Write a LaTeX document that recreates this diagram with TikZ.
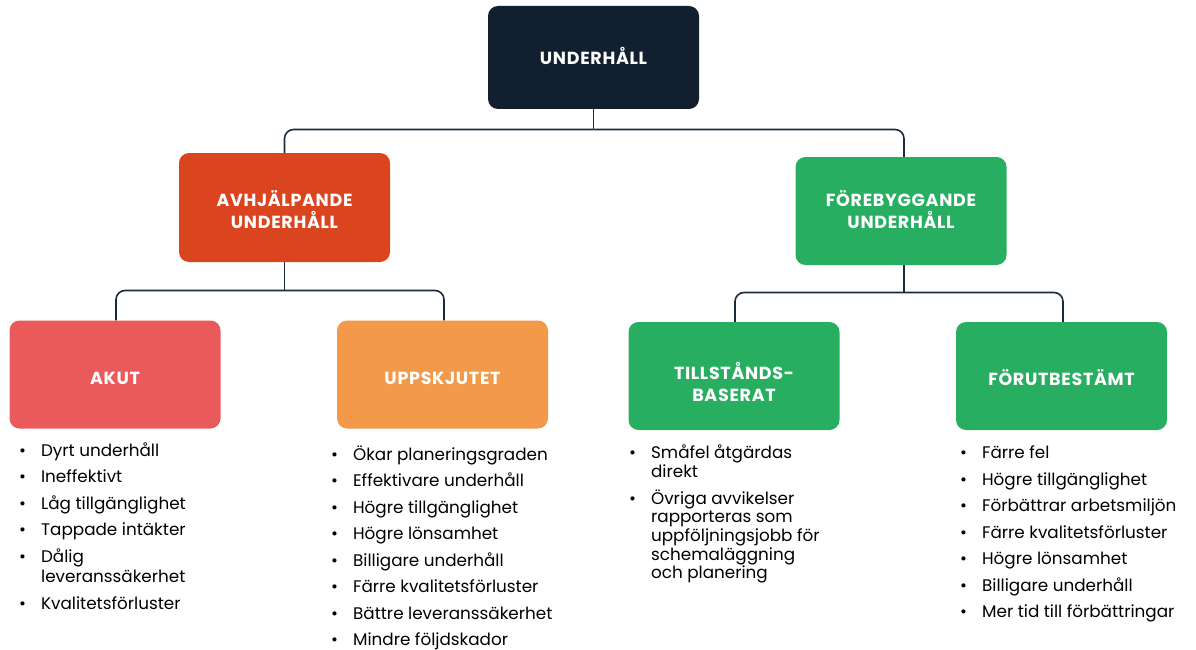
\documentclass[tikz,border=0pt]{standalone}
\usepackage{fontspec}
\setmainfont{Poppins}
\definecolor{navy}{HTML}{111F2E}
\definecolor{rust}{HTML}{DA4520}
\definecolor{leaf}{HTML}{27AE60}
\definecolor{coral}{HTML}{EB5A5A}
\definecolor{amber}{HTML}{F2994A}
\definecolor{wire}{HTML}{1C2A3A}
% bullet list rows: one item per row, extra gap between items
\newcommand{\itm}{\textbullet\hspace{15pt}}
\newcommand{\gap}{\\[6pt]}
\begin{document}
\begin{tikzpicture}[x=1pt,y=-1pt,
  box/.style={rounded corners=10pt, minimum width=211pt, minimum height=108pt,
    inner sep=0pt},
  boxtext/.style={inner sep=0pt, text=white, align=center,
    font=\fontsize{17.5}{22}\selectfont\bfseries\addfontfeature{LetterSpace=4}},
  conn/.style={draw=wire, line width=1.6pt, rounded corners=9pt},
  list/.style={anchor=north west, inner sep=0pt, text=black,
    font=\fontsize{16.8}{20.5}\selectfont}]
\useasboundingbox (0,0) rectangle (1196,650);

% category boxes
\node[box, fill=navy, minimum height=103pt] (root) at (593.5,57.5) {};
\node[box, fill=rust, minimum height=109pt] (avh) at (284.5,207.5) {};
\node[box, fill=leaf] (fore) at (901,211) {};
\node[box, fill=coral] (akut) at (115,374.5) {};
\node[box, fill=amber] (upps) at (442.5,374.5) {};
\node[box, fill=leaf] (till) at (734,376) {};
\node[box, fill=leaf] (forut) at (1061.5,376) {};

% box titles
\node[boxtext] (rootT) at ([yshift=2pt]root.center) {UNDERHÅLL};
\node[boxtext] (avhT) at ([yshift=-2pt]avh.center) {AVHJÄLPANDE\\UNDERHÅLL};
\node[boxtext] (foreT) at ([yshift=1pt]fore.center) {FÖREBYGGANDE\\UNDERHÅLL};
\node[boxtext] (akutT) at ([yshift=-4pt]akut.center) {AKUT};
\node[boxtext] (uppsT) at ([yshift=-4pt]upps.center) {UPPSKJUTET};
\node[boxtext] (tillT) at ([yshift=-6pt]till.center) {TILLSTÅNDS-\\BASERAT};
\node[boxtext] (forutT) at ([yshift=-2pt]forut.center) {FÖRUTBESTÄMT};

% junction points of the tree
\coordinate (j0) at (593.5,129.5);
\coordinate (j1) at (284.5,290.5);
\coordinate (j2) at (904,292.5);

% connectors
\draw[conn] (root.south) -- (j0);
\draw[conn] (j0) -| (avh.north);
\draw[conn] (j0) -| ([xshift=3pt]fore.north);
\draw[conn] (avh.south) -- (j1);
\draw[conn] (j1) -| ([xshift=1pt]akut.north);
\draw[conn] (j1) -| ([xshift=1.5pt]upps.north);
\draw[conn] (j2 |- fore.south) -- (j2);
\draw[conn] (j2) -| ([xshift=1pt]till.north);
\draw[conn] (j2) -| ([xshift=1.5pt]forut.north);

% bullet lists
\node[list] (akutlist) at (19,441.5) {\begin{tabular}{@{}l@{}}
\itm Dyrt underhåll\gap
\itm Ineffektivt\gap
\itm Låg tillgänglighet\gap
\itm Tappade intäkter\gap
\itm Dålig\\
\phantom{\itm}leveranssäkerhet\gap
\itm Kvalitetsförluster
\end{tabular}};

\node[list] (uppslist) at (331,445.5) {\begin{tabular}{@{}l@{}}
\itm Ökar planeringsgraden\gap
\itm Effektivare underhåll\gap
\itm Högre tillgänglighet\gap
\itm Högre lönsamhet\gap
\itm Billigare underhåll\gap
\itm Färre kvalitetsförluster\gap
\itm Bättre leveranssäkerhet\gap
\itm Mindre följdskador
\end{tabular}};

\node[list, font=\fontsize{16.8}{18.6}\selectfont] (tilllist) at (629,444.5) {\begin{tabular}{@{}l@{}}
\itm Småfel åtgärdas\\
\phantom{\itm}direkt\\[7pt]
\itm Övriga avvikelser\\
\phantom{\itm}rapporteras som\\
\phantom{\itm}uppföljningsjobb för\\
\phantom{\itm}schemaläggning\\
\phantom{\itm}och planering
\end{tabular}};

\node[list] (forutlist) at (960,444) {\begin{tabular}{@{}l@{}}
\itm Färre fel\gap
\itm Högre tillgänglighet\gap
\itm Förbättrar arbetsmiljön\gap
\itm Färre kvalitetsförluster\gap
\itm Högre lönsamhet\gap
\itm Billigare underhåll\gap
\itm Mer tid till förbättringar
\end{tabular}};
\end{tikzpicture}
\end{document}
